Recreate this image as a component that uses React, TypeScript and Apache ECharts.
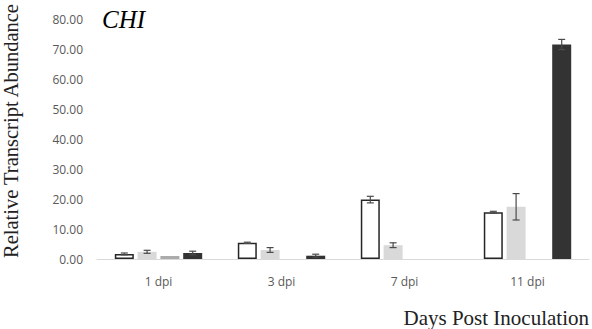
import React, { useEffect, useRef } from "react";
import * as echarts from "echarts";

const categories = ["1 dpi", "3 dpi", "7 dpi", "11 dpi"];
const seriesNames = ["A", "B", "C", "D"];
const valuesA = [1.7, 5.4, 19.8, 15.6];
const errorsA = [0.3, 0.2, 1.1, 0.3];
const valuesB = [2.4, 3.0, 4.6, 17.4];
const errorsB = [0.5, 0.8, 0.8, 4.4];
const valuesC: (number | string)[] = [1.0, "-", "-", "-"];
const errorsC = [0, 0, 0, 0];
const valuesD: (number | string)[] = [2.0, 1.1, "-", 71.5];
const errorsD = [0.6, 0.5, 0, 1.7];
const yTicks = [0, 10, 20, 30, 40, 50, 60, 70, 80];

const BAR_W = 19;
const BAR_GAP = 3.8;

export default function App() {
  const ref = useRef<HTMLDivElement>(null);
  useEffect(() => {
    if (!ref.current) return;
    const chart = echarts.init(ref.current, undefined, { renderer: "svg" });
    const allVals = [valuesA, valuesB, valuesC, valuesD];
    const allErr = [errorsA, errorsB, errorsC, errorsD];
    const errData: number[][] = [];
    allVals.forEach((vals, si) => {
      vals.forEach((v, ci) => {
        if (typeof v === "number" && allErr[si][ci] > 0) {
          errData.push([ci, v, allErr[si][ci], si]);
        }
      });
    });
    const colors = ["#ffffff", "#d9d9d9", "#ababab", "#333333"];
    chart.setOption({
      animation: false,
      grid: { left: 97, right: 0, top: 19, bottom: 70 },
      title: {
        text: "CHI",
        left: 97,
        top: 2,
        textStyle: {
          fontFamily: "Liberation Serif",
          fontStyle: "italic",
          fontWeight: "normal",
          fontSize: 25,
          color: "#000",
        },
      },
      xAxis: {
        type: "category",
        data: categories,
        axisLine: { lineStyle: { color: "#d9d9d9", width: 1 } },
        axisTick: { show: false },
        axisLabel: {
          color: "#595959",
          fontFamily: "Open Sans",
          fontSize: 12,
          margin: 16,
        },
        name: "Days Post Inoculation",
        nameLocation: "end",
        nameGap: 0,
        nameTextStyle: {
          fontFamily: "Liberation Serif",
          fontSize: 21,
          color: "#222",
          align: "right",
          verticalAlign: "top",
          padding: [48, 0, 0, 0],
        },
      },
      yAxis: {
        type: "value",
        min: yTicks[0],
        max: yTicks[yTicks.length - 1],
        interval: 10,
        splitLine: { show: false },
        axisLine: { show: false },
        axisTick: { show: false },
        axisLabel: {
          color: "#595959",
          fontFamily: "Open Sans",
          fontSize: 12,
          margin: 14,
          formatter: (v: number) => v.toFixed(2),
        },
      },
      graphic: [
        {
          type: "text",
          x: 21,
          y: 258,
          rotation: Math.PI / 2,
          style: {
            text: "Relative Transcript Abundance",
            fontFamily: "Liberation Serif",
            fontSize: 20.5,
            fill: "#222",
            textAlign: "left",
            textVerticalAlign: "bottom",
          },
        },
      ],
      series: [
        ...allVals.map((vals, si) => ({
          name: seriesNames[si],
          type: "bar",
          data: vals,
          barWidth: BAR_W,
          barGap: (BAR_GAP / BAR_W) * 100 + "%",
          itemStyle: {
            color: colors[si],
            borderColor: si === 0 ? "#262626" : colors[si],
            borderWidth: si === 0 ? 1.5 : 0,
          },
        })),
        {
          type: "custom",
          data: errData,
          z: 10,
          renderItem: (params: any, api: any) => {
            const ci = api.value(0);
            const v = api.value(1);
            const e = api.value(2);
            const si = api.value(3);
            const base = api.coord([ci, v]);
            const step = BAR_W + BAR_GAP;
            const x = base[0] + (si - 1.5) * step;
            const top = api.coord([ci, v + e])[1];
            const bot = api.coord([ci, v - e])[1];
            const cap = 3.5;
            const style = { stroke: "#4a4a4a", lineWidth: 1.2 };
            return {
              type: "group",
              children: [
                { type: "line", shape: { x1: x, y1: top, x2: x, y2: bot }, style },
                { type: "line", shape: { x1: x - cap, y1: top, x2: x + cap, y2: top }, style },
                { type: "line", shape: { x1: x - cap, y1: bot, x2: x + cap, y2: bot }, style },
              ],
            };
          },
        },
      ],
    });
    return () => chart.dispose();
  }, []);
  return <div ref={ref} style={{ width: 592, height: 329, position: "absolute", left: 0, top: 0 }} />;
}
